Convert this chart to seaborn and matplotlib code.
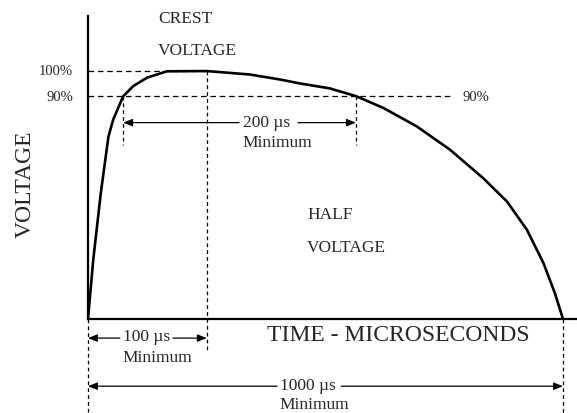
import matplotlib
matplotlib.use("Agg")
import matplotlib.pyplot as plt
import seaborn as sns
import pandas as pd

sns.set_style("white")
plt.rcParams["font.family"] = ["Liberation Serif", "DejaVu Serif"]

# Impulse waveform: time (µs, schematic scale) and voltage (% of crest)
time_us = [0, 11, 27, 43, 53, 74, 95, 124, 166, 250, 341, 404, 446, 509,
           564, 622, 692, 762, 832, 882, 924, 959, 983, 1000]
voltage_pct = [0, 23.8, 50.9, 73.5, 80.4, 89.8, 93.9, 97.3, 99.9, 100, 98.6,
               96.6, 95.0, 93.0, 89.9, 85.1, 77.7, 68.3, 56.8, 47.4, 36.0,
               22.5, 10.4, 0]

# Reference levels and key instants
crest_level = 100
ninety_level = 90
crest_time = 250
rise90_time = 74
fall90_time = 564
tail_end_time = 1000

df = pd.DataFrame({"time": time_us, "voltage": voltage_pct})

fig = plt.figure(figsize=(5.77, 4.13), dpi=100)
ax = fig.add_axes([88 / 577, 94 / 413, 489 / 577, 303 / 413])

sns.lineplot(data=df, x="time", y="voltage", ax=ax, color="black",
             linewidth=1.9, sort=False, estimator=None)

ax.set_xlim(0, 1029.5)
ax.set_ylim(0, 122.2)
ax.set_xticks([])
ax.set_yticks([])
ax.set_xlabel("")
ax.set_ylabel("")
for side in ("top", "right"):
    ax.spines[side].set_visible(False)
for side in ("left", "bottom"):
    ax.spines[side].set_linewidth(1.6)
    ax.spines[side].set_color("black")

dash_h = dict(color="black", lw=0.9, linestyle=(0, (4.5, 3)), clip_on=False)
dash_v = dict(color="black", lw=0.9, linestyle=(0, (3, 2.5)), clip_on=False)

# Horizontal reference lines
ax.plot([0, crest_time], [crest_level, crest_level], **dash_h)
ax.plot([0, 766], [ninety_level, ninety_level], **dash_h)

# Vertical reference lines
ax.plot([crest_time, crest_time], [crest_level, -13.5], **dash_v)
ax.plot([rise90_time, rise90_time], [ninety_level, 70.3], **dash_v)
ax.plot([fall90_time, fall90_time], [ninety_level, 70.3], **dash_v)
ax.plot([0, 0], [0, -38], **dash_v)
ax.plot([tail_end_time, tail_end_time], [0, -38], **dash_v)

arrow_kw = dict(arrowstyle="-|>,head_length=0.55,head_width=0.22",
                color="black", lw=0.9, shrinkA=0, shrinkB=0)


def arrow(x_from, x_to, y):
    ax.annotate("", xy=(x_to, y), xytext=(x_from, y),
                arrowprops=arrow_kw, annotation_clip=False)


small = 12.5
# 200 µs span between the 90% points
arrow(318, rise90_time, 79.2)
arrow(442, fall90_time, 79.2)
ax.text(326, 79.2, "200 µs", fontsize=small, va="center", ha="left")
ax.text(326, 71.1, "Minimum", fontsize=small, va="center", ha="left")

# 100 µs to crest
arrow(67, 0, -7.7)
arrow(179, crest_time, -7.7)
ax.text(74, -7.1, "100 µs", fontsize=small, va="center", ha="left")
ax.text(72, -15.8, "Minimum", fontsize=small, va="center", ha="left")

# 1000 µs total duration
arrow(398, 0, -27.1)
arrow(533, tail_end_time, -27.1)
ax.text(404, -27.1, "1000 µs", fontsize=small, va="center", ha="left")
ax.text(404, -34.7, "Minimum", fontsize=small, va="center", ha="left")

# Level labels
ax.text(-31.5, crest_level, "100%", fontsize=10.5, va="center", ha="right")
ax.text(-31.5, ninety_level - 0.7, "90%", fontsize=10.5, va="center", ha="right")
ax.text(789, ninety_level - 0.7, "90%", fontsize=10.5, va="center", ha="left")

# Annotations inside the plot
ax.text(147, 121, "CREST", fontsize=small, va="center", ha="left")
ax.text(147, 107.9, "VOLTAGE", fontsize=small, va="center", ha="left")
ax.text(461, 42, "HALF", fontsize=small, va="center", ha="left")
ax.text(461, 28.7, "VOLTAGE", fontsize=small, va="center", ha="left")

# Axis titles
ax.text(654, -6.5, "TIME - MICROSECONDS", fontsize=17, va="center",
        ha="center")
ax.text(-132.6, 54.5, "VOLTAGE", fontsize=17, va="center", ha="center",
        rotation=90)

fig.savefig("out.png", dpi=100)
